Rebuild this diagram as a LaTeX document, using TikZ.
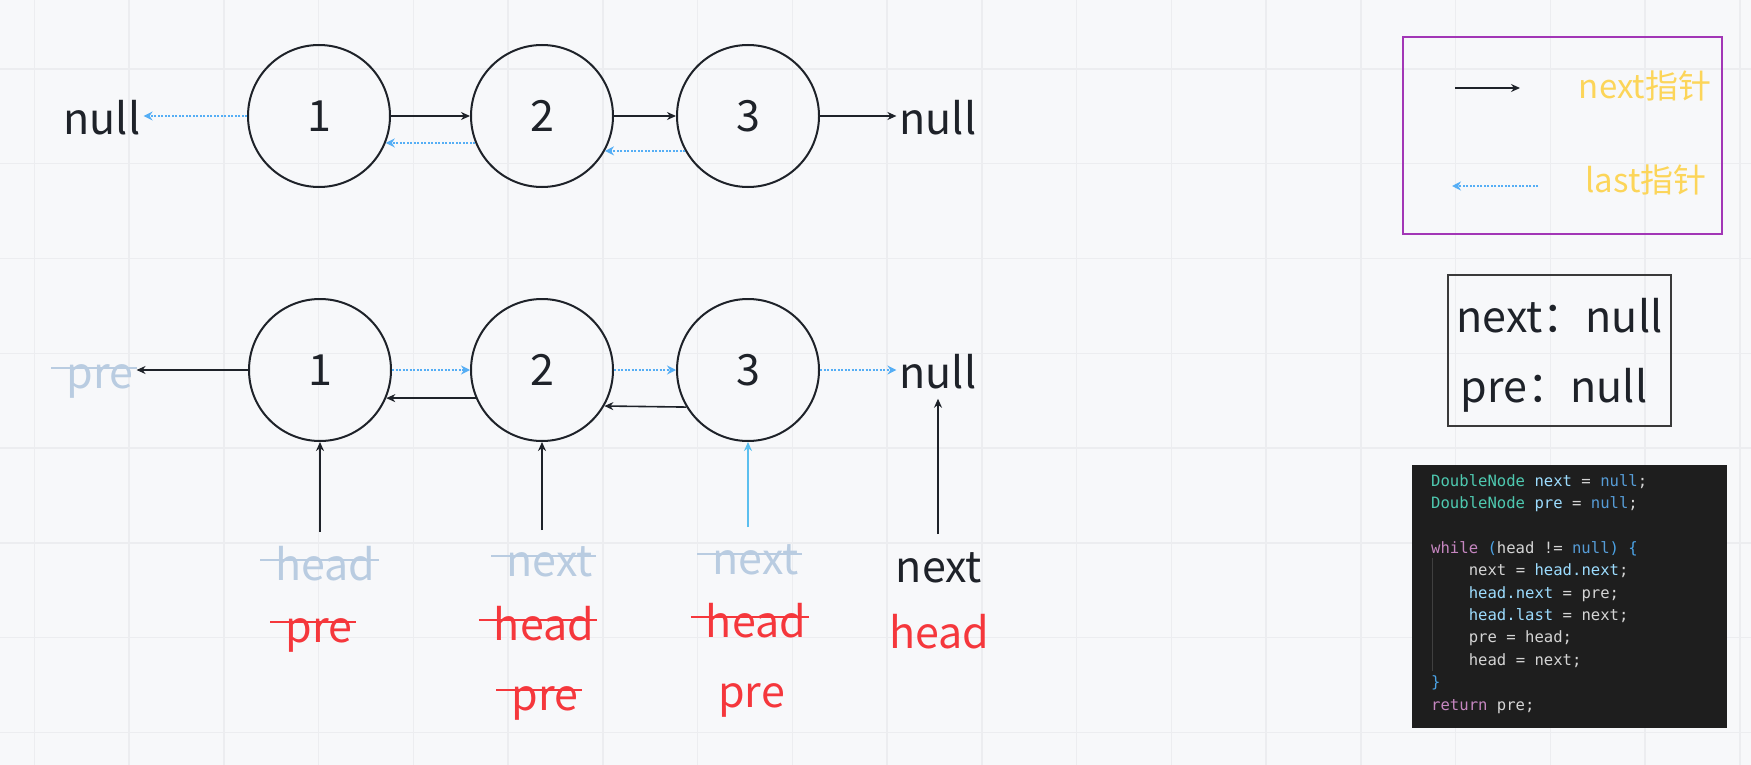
\documentclass[tikz,border=0pt]{standalone}
\usepackage{fontspec}
\setmainfont{Noto Sans CJK SC}
\newfontfamily\codefont{DejaVu Sans Mono}
\usetikzlibrary{arrows.meta}
\definecolor{bgcolor}{HTML}{F7F8FA}
\definecolor{gridcolor}{HTML}{ECEDF0}
\definecolor{inkdark}{HTML}{1E2229}
\definecolor{lastblue}{HTML}{55AEF5}
\definecolor{headblue}{HTML}{5BBFEF}
\definecolor{fadedtext}{HTML}{B9CCE1}
\definecolor{markred}{HTML}{F5373C}
\definecolor{legendpurple}{HTML}{A236B6}
\definecolor{legendyellow}{HTML}{FCD559}
\definecolor{boxgrey}{HTML}{3A3A3A}
\definecolor{codebg}{HTML}{1E1E1E}
\definecolor{codeplain}{HTML}{D4D4D4}
\definecolor{codetype}{HTML}{4EC9B0}
\definecolor{codevar}{HTML}{9CDCFE}
\definecolor{codenull}{HTML}{569CD6}
\definecolor{codekw}{HTML}{C586C0}
\definecolor{codebracket}{HTML}{4BA3E6}
\definecolor{codeguide}{HTML}{404040}

\tikzset{
  listnode/.style={circle, draw=inkdark, line width=2pt, minimum size=142pt, inner sep=0pt,
    font=\fontsize{43}{50}\selectfont, text=inkdark},
  word/.style={anchor=base, inner xsep=3pt, inner ysep=0pt, font=\fontsize{43}{50}\selectfont},
  nextptr/.style={-{Stealth[length=9pt,width=8pt]}, line width=1.6pt, inkdark},
  lastptr/.style={-{Stealth[length=9pt,width=9pt]}, line width=2pt, lastblue, dash pattern=on 2pt off 1.5pt},
  struck/.style={append after command={
      ([xshift=-12pt,yshift=20pt]\tikzlastnode.base west) edge[draw=#1, line width=2pt, -]
      ([yshift=20pt]\tikzlastnode.base east)}},
  codeline/.style={anchor=base west, inner sep=0pt, font=\codefont\fontsize{15.6}{22}\selectfont, text=codeplain}
}

\begin{document}
\begin{tikzpicture}[x=1pt, y=-1pt]
    % Canvas and grid
    \fill[bgcolor] (0,0) rectangle (1751,765);
    \useasboundingbox (0,0) rectangle (1751,765);
    \foreach \gx in {0,...,18}
        \draw[gridcolor, line width=1.5pt] ({34.25+94.75*\gx},0) -- ({34.25+94.75*\gx},765);
    \foreach \gy in {0,...,7}
        \draw[gridcolor, line width=1.5pt] (0,{69+94.75*\gy}) -- (1751,{69+94.75*\gy});

    % List before reversal
    \node[listnode] (c1) at (319,116) {1};
    \node[listnode] (c2) at (542,116) {2};
    \node[listnode] (c3) at (748,116) {3};
    \node[word, text=inkdark] (nullL) at (102,135) {null};
    \node[word, text=inkdark] (nullR) at (938,135) {null};

    \draw[nextptr] (c1.east) -- (c2.west);
    \draw[nextptr] (c2.east) -- (c3.west);
    \draw[nextptr] (c3.east) -- (nullR.west |- c3.east);
    \draw[lastptr] (c1.west) -- (nullL.east |- c1.west);
    \draw[lastptr] (c2.-158) -- (c1.-22);
    \draw[lastptr] (c3.-151) -- (c2.-29);

    % List after reversal
    \node[listnode] (d1) at (320,370) {1};
    \node[listnode] (d2) at (542,370) {2};
    \node[listnode] (d3) at (748,370) {3};
    \node[word, text=fadedtext, struck=fadedtext] (preL) at (100,388) {pre};
    \node[word, text=inkdark] (nullB) at (938,388) {null};

    \draw[lastptr] (d1.east) -- (d2.west);
    \draw[lastptr] (d2.east) -- (d3.west);
    \draw[lastptr] (d3.east) -- (nullB.west |- d3.east);
    \draw[nextptr] (d1.west) -- (preL.east |- d1.west);
    \draw[nextptr] (d2.-157) -- (d1.-23);
    \draw[nextptr] (d3.-149.5) -- (d2.-30.5);

    % Pointers from below
    \coordinate (ptr1) at (320,532);
    \coordinate (ptr2) at (542,530);
    \coordinate (ptr3) at (748,527);
    \coordinate (ptr4) at (938,534);
    \draw[nextptr] (ptr1) -- (d1.south);
    \draw[nextptr] (ptr2) -- (d2.south);
    \draw[nextptr, headblue] (ptr3) -- (d3.south);
    \draw[nextptr, shorten >=10pt] (ptr4) -- (nullB.south);

    % Variable names per step
    \node[word, text=fadedtext, struck=fadedtext] (headA) at (325.5,580) {head};
    \node[word, text=markred, struck=markred] (preA) at (319,642) {pre};
    \node[word, text=fadedtext, struck=fadedtext] (nextB) at (549.5,576) {next};
    \node[word, text=markred, struck=markred] (headB) at (544,640) {head};
    \node[word, text=markred, struck=markred] (preB) at (545,710) {pre};
    \node[word, text=fadedtext, struck=fadedtext] (nextC) at (755.5,574) {next};
    \node[word, text=markred, struck=markred] (headC) at (756,637) {head};
    \node[word, text=markred] (preC) at (751.5,707) {pre};
    \node[word, text=inkdark] (nextD) at (939,582) {next};
    \node[word, text=markred] (headD) at (939.5,648) {head};

    % Legend
    \draw[legendpurple, line width=2pt] (1403,37) rectangle (1722,234);
    \coordinate (lgA) at (1455,88);
    \coordinate (lgB) at (1520,88);
    \coordinate (lgC) at (1538,186);
    \coordinate (lgD) at (1452,186);
    \draw[nextptr] (lgA) -- (lgB);
    \draw[lastptr] (lgC) -- (lgD);
    \node[word, text=legendyellow, font=\fontsize{33}{40}\selectfont] (lgnext) at (1645,99) {next指针};
    \node[word, text=legendyellow, font=\fontsize{33}{40}\selectfont] (lglast) at (1646,192) {last指针};

    % Initial values
    \draw[boxgrey, line width=2pt] (1448,275) rectangle (1671,426);
    \node[word, text=inkdark] (initnext) at (1559.5,332) {next：null};
    \node[word, text=inkdark] (initpre) at (1554,402) {pre：null};

    % Code snippet
    \fill[codebg] (1412,465) rectangle (1727,728);
    \draw[codeguide, line width=1pt] (1432,558) -- (1432,671);
    \node[codeline] (cl1) at (1431,486) {\textcolor{codetype}{DoubleNode} \textcolor{codevar}{next} = \textcolor{codenull}{null};};
    \node[codeline] (cl2) at (1431,508.4) {\textcolor{codetype}{DoubleNode} \textcolor{codevar}{pre} = \textcolor{codenull}{null};};
    \node[codeline] (cl4) at (1431,553.2) {\textcolor{codekw}{while} \textcolor{codebracket}{(}head != \textcolor{codenull}{null}\textcolor{codebracket}{)} \textcolor{codebracket}{\{}};
    \node[codeline] (cl5) at (1468.6,575.6) {next = \textcolor{codevar}{head.next};};
    \node[codeline] (cl6) at (1468.6,598) {\textcolor{codevar}{head.next} = pre;};
    \node[codeline] (cl7) at (1468.6,620.4) {\textcolor{codevar}{head.last} = next;};
    \node[codeline] (cl8) at (1468.6,642.8) {pre = head;};
    \node[codeline] (cl9) at (1468.6,665.2) {head = next;};
    \node[codeline] (cl10) at (1431,687.6) {\textcolor{codebracket}{\}}};
    \node[codeline] (cl11) at (1431,710) {\textcolor{codekw}{return} pre;};
\end{tikzpicture}
\end{document}
